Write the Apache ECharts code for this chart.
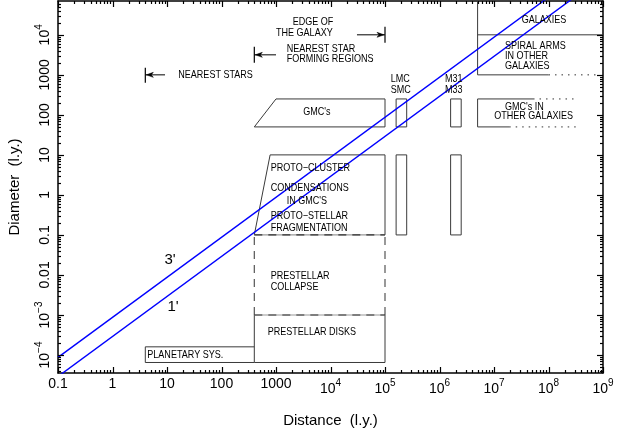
<!DOCTYPE html>
<html><head><meta charset="utf-8">
<script src="https://cdn.jsdelivr.net/npm/echarts@6/dist/echarts.min.js"></script>
<style>html,body{margin:0;padding:0;background:#fff}#c{width:628px;height:431px;background:#fff}</style>
</head><body><div id="c"></div>
<script>
// ---- axes ----
const xRange = [0.1, 1e9];
const yRange = [3.55e-5, 7e4];
const xMajorTicks = [0.1, 1, 10, 100, 1000, 1e4, 1e5, 1e6, 1e7, 1e8, 1e9];
const yMajorTicks = [1e-4, 1e-3, 0.01, 0.1, 1, 10, 100, 1000, 1e4];
const minorMultipliers = [2, 3, 4, 5, 6, 7, 8, 9];

// ---- angular size lines (D = theta * d) ----
const line3arcmin = [[0.1, 8.7e-5], [1e9, 8.7e5]];
const line1arcmin = [[0.1, 2.9e-5], [1e9, 2.9e5]];
const angleLabels = [[11.4, 0.0237, "3'"], [12.9, 1.6e-3, "1'"]];

// ---- region outlines: [x0, y0, x1, y1] ----
const solidSegments = [
  [4, 6.5e-5, 400, 6.5e-5], [4, 1.6e-4, 400, 1.6e-4], [4, 6.5e-5, 4, 1.6e-4],
  [400, 6.5e-5, 1e5, 6.5e-5], [400, 6.5e-5, 400, 1e-3], [1e5, 6.5e-5, 1e5, 1e-3],
  [780, 10, 1e5, 10], [1e5, 10, 1e5, 0.1], [780, 10, 400, 0.1],
  [400, 50, 1000, 250], [1000, 250, 1e5, 250], [1e5, 250, 1e5, 50], [1e5, 50, 400, 50],
  [5e6, 50, 5e6, 250], [5e6, 250, 5.2e7, 250], [5e6, 50, 1.9e7, 50],
  [5e6, 7e4, 5e6, 1000], [5e6, 1e4, 1e9, 1e4], [5e6, 1000, 1e8, 1000]
];
const dashedHorizontal = [[400, 1e-3, 1e5, 1e-3], [400, 0.1, 1e5, 0.1]];
const dashedVertical = [[400, 1e-3, 400, 0.1], [1e5, 1e-3, 1e5, 0.1]];
const dottedSegments = [[5.2e7, 250, 3.3e8, 250], [1.9e7, 50, 3.3e8, 50], [1e8, 1000, 8.5e8, 1000]];
const boxes = [[1.6e5, 2.5e5, 50, 250], [1.6e5, 2.5e5, 0.1, 10], [1.6e6, 2.5e6, 50, 250], [1.6e6, 2.5e6, 0.1, 10]];
const arrows = [[9.2, 4, 1000, 631, 1500], [1000, 400, 3162, 2000, 5000], [3.06e4, 1e5, 1e4, 6310, 15800]];

// ---- text labels: [x, y, text] ----
const boxLabels = [
  [16.1, 1000, 'NEAREST STARS'],
  [1571, 4390, 'NEAREST STAR'], [1571, 2470, 'FORMING REGIONS'],
  [2025, 2.03e4, 'EDGE OF'], [1000, 1.1e4, 'THE GALAXY'],
  [3170, 114, "GMC's"],
  [1.27e5, 794, 'LMC'], [1.27e5, 422, 'SMC'],
  [1.26e6, 794, 'M31'], [1.26e6, 422, 'M33'],
  [3.22e7, 2.37e4, 'GALAXIES'],
  [1.59e7, 5309, 'SPIRAL ARMS'], [1.59e7, 2985, 'IN OTHER'], [1.59e7, 1679, 'GALAXIES'],
  [1.59e7, 152, "GMC's IN"], [1.01e7, 90.7, 'OTHER GALAXIES'],
  [800, 4.65, 'PROTO\u2212CLUSTER'], [800, 1.47, 'CONDENSATIONS'], [1571, 0.72, "IN GMC'S"],
  [800, 0.30, 'PROTO\u2212STELLAR'], [800, 0.147, 'FRAGMENTATION'],
  [800, 9.4e-3, 'PRESTELLAR'], [800, 4.9e-3, 'COLLAPSE'],
  [705, 3.7e-4, 'PRESTELLAR DISKS'],
  [4.35, 1e-4, 'PLANETARY SYS.']
];

function minorTicks(range) {
  const out = [];
  const e0 = Math.floor(Math.log10(range[0])), e1 = Math.ceil(Math.log10(range[1]));
  for (let e = e0; e < e1; e++) for (const m of minorMultipliers) {
    const v = m * Math.pow(10, e);
    if (v > range[0] && v < range[1]) out.push(v);
  }
  return out;
}
const xMinorTicks = minorTicks(xRange);
const yMinorTicks = minorTicks(yRange);

function fmt(v) {
  const e = Math.round(Math.log10(v));
  if (e >= -2 && e <= 3) return String(e >= 0 ? Math.round(v) : Number(v.toPrecision(1)));
  return '{b|10}{s|' + (e < 0 ? '\u2212' : '') + Math.abs(e) + '}';
}
const LABEL_FONT = "'Liberation Sans', Arial, sans-serif";
const rich = {
  b: { fontSize: 14, fontFamily: LABEL_FONT, color: '#000', padding: [5, 0, 0, 0] },
  s: { fontSize: 10, fontFamily: LABEL_FONT, color: '#000', padding: [0, 0, 6, 0] }
};

function axis(dir, pos, withLabels, extra) {
  const range = dir === 'x' ? xRange : yRange;
  const ticks = dir === 'x' ? xMajorTicks : yMajorTicks;
  return Object.assign({
    type: 'log', logBase: 10, position: pos, min: range[0], max: range[1], splitLine: { show: false },
    axisLine: { show: true, lineStyle: { color: '#000', width: 1.5 } },
    axisTick: { show: false },
    axisLabel: withLabels ? {
      customValues: ticks, formatter: fmt, rich: rich,
      fontSize: 14, fontFamily: LABEL_FONT, color: '#000',
      margin: dir === 'x' ? 4 : 6, rotate: dir === 'x' ? 0 : 90
    } : { show: false }
  }, extra || {});
}

function tickSeries(dir, values, len) {
  const data = values.map(v => dir === 'x' ? [v, yRange[0], v, yRange[1]] : [xRange[0], v, xRange[1], v]);
  return {
    type: 'custom', coordinateSystem: 'cartesian2d', xAxisIndex: 0, yAxisIndex: 0, z: 10,
    encode: { x: [0, 2], y: [1, 3] },
    data: data,
    renderItem: function (params, api) {
      const a = api.coord([api.value(0), api.value(1)]);
      const b = api.coord([api.value(2), api.value(3)]);
      if (dir === 'x') {
        const px = Math.round(a[0]) + 0.5;
        return { type: 'group', children: [
          { type: 'line', shape: { x1: px, y1: a[1], x2: px, y2: a[1] - len }, style: { stroke: '#000', lineWidth: 1.2 } },
          { type: 'line', shape: { x1: px, y1: b[1], x2: px, y2: b[1] + len }, style: { stroke: '#000', lineWidth: 1.2 } }
        ] };
      }
      const py = Math.round(a[1]) + 0.5;
      return { type: 'group', children: [
        { type: 'line', shape: { x1: a[0], y1: py, x2: a[0] + len, y2: py }, style: { stroke: '#000', lineWidth: 1.2 } },
        { type: 'line', shape: { x1: b[0], y1: py, x2: b[0] - len, y2: py }, style: { stroke: '#000', lineWidth: 1.2 } }
      ] };
    }
  };
}

const EDGE = '#3a3a3a';
function segSeries(data, style, z) {
  return {
    type: 'custom', coordinateSystem: 'cartesian2d', xAxisIndex: 0, yAxisIndex: 0, silent: true, z: z || 2,
    encode: { x: [0, 2], y: [1, 3] },
    data: data,
    renderItem: function (params, api) {
      const p0 = api.coord([api.value(0), api.value(1)]);
      const p1 = api.coord([api.value(2), api.value(3)]);
      return { type: 'line', shape: { x1: p0[0], y1: p0[1], x2: p1[0], y2: p1[1] }, style: Object.assign({ fill: null }, style) };
    }
  };
}

function textSeries(labels, font) {
  return {
    type: 'custom', coordinateSystem: 'cartesian2d', xAxisIndex: 0, yAxisIndex: 0, silent: true, z: 5,
    encode: { x: 0, y: 1 }, data: labels.map(d => [d[0], d[1]]),
    renderItem: function (params, api) {
      const p = api.coord([api.value(0), api.value(1)]);
      return Object.assign({ type: 'text', x: p[0], y: p[1] }, font.el, {
        style: Object.assign({ text: labels[params.dataIndex][2], fill: '#000' }, font.style)
      });
    }
  };
}

const option = {
  animation: false,
  grid: { left: 58, right: 25, top: 1, bottom: 58, containLabel: false, outerBoundsMode: 'none' },
  xAxis: [
    axis('x', 'bottom', true, {
      name: 'Distance  (l.y.)', nameLocation: 'middle', nameGap: 40,
      nameTextStyle: { fontSize: 15, fontFamily: LABEL_FONT, color: '#000' }
    }),
    axis('x', 'top', false)
  ],
  yAxis: [
    axis('y', 'left', true, {
      name: 'Diameter  (l.y.)', nameLocation: 'middle', nameGap: 36,
      nameTextStyle: { fontSize: 15, fontFamily: LABEL_FONT, color: '#000' }
    }),
    axis('y', 'right', false)
  ],
  series: [
    tickSeries('x', xMajorTicks, 6),
    tickSeries('x', xMinorTicks, 3),
    tickSeries('y', yMajorTicks, 6),
    tickSeries('y', yMinorTicks, 3),
    segSeries(solidSegments, { stroke: EDGE, lineWidth: 1 }),
    segSeries(dashedHorizontal, { stroke: '#999', lineWidth: 1.2 }),
    segSeries(dashedHorizontal, { stroke: '#333', lineWidth: 1.2, lineDash: [8, 6] }, 3),
    segSeries(dashedVertical, { stroke: '#555', lineWidth: 1.2, lineDash: [8, 6] }),
    segSeries(dottedSegments, { stroke: '#333', lineWidth: 1, lineDash: [1.5, 5] }),
    {
      type: 'custom', coordinateSystem: 'cartesian2d', xAxisIndex: 0, yAxisIndex: 0, silent: true,
      encode: { x: [0, 1], y: [2, 3] }, data: boxes,
      renderItem: function (params, api) {
        const a = api.coord([api.value(0), api.value(3)]);
        const b = api.coord([api.value(1), api.value(2)]);
        return { type: 'rect', shape: { x: a[0], y: a[1], width: b[0] - a[0], height: b[1] - a[1] },
          style: { fill: null, stroke: EDGE, lineWidth: 1 } };
      }
    },
    {
      type: 'custom', coordinateSystem: 'cartesian2d', xAxisIndex: 0, yAxisIndex: 0, silent: true,
      encode: { x: [0, 1], y: [2, 3, 4] }, data: arrows,
      renderItem: function (params, api) {
        const tail = api.coord([api.value(0), api.value(2)]);
        const tip = api.coord([api.value(1), api.value(2)]);
        const bLo = api.coord([api.value(1), api.value(3)]);
        const bHi = api.coord([api.value(1), api.value(4)]);
        const dir = tip[0] > tail[0] ? -1 : 1;
        return { type: 'group', children: [
          { type: 'line', shape: { x1: tail[0], y1: tail[1], x2: tip[0], y2: tip[1] }, style: { stroke: '#000', lineWidth: 1 } },
          { type: 'line', shape: { x1: bLo[0], y1: bLo[1], x2: bHi[0], y2: bHi[1] }, style: { stroke: '#000', lineWidth: 1.2 } },
          { type: 'polygon', shape: { points: [[tip[0] + dir * 1, tip[1]], [tip[0] + dir * 8, tip[1] - 2.5], [tip[0] + dir * 6, tip[1]], [tip[0] + dir * 8, tip[1] + 2.5]] },
            style: { fill: '#000', stroke: '#000', lineWidth: 0.5 } }
        ] };
      }
    },
    {
      type: 'line', xAxisIndex: 0, yAxisIndex: 0, data: line3arcmin, showSymbol: false, symbol: 'none',
      lineStyle: { color: '#0000ff', width: 1.4 }, clip: true, silent: true, z: 4
    },
    {
      type: 'line', xAxisIndex: 0, yAxisIndex: 0, data: line1arcmin, showSymbol: false, symbol: 'none',
      lineStyle: { color: '#0000ff', width: 1.4 }, clip: true, silent: true, z: 4
    },
    textSeries(boxLabels, { el: { scaleX: 0.86, scaleY: 1 }, style: { fontSize: 10.5, fontFamily: LABEL_FONT, align: 'left', verticalAlign: 'middle' } }),
    textSeries(angleLabels, { el: {}, style: { fontSize: 15, fontFamily: LABEL_FONT, align: 'center', verticalAlign: 'middle' } })
  ]
};
const chart = echarts.init(document.getElementById('c'));
chart.setOption(option);
</script>
</body></html>
